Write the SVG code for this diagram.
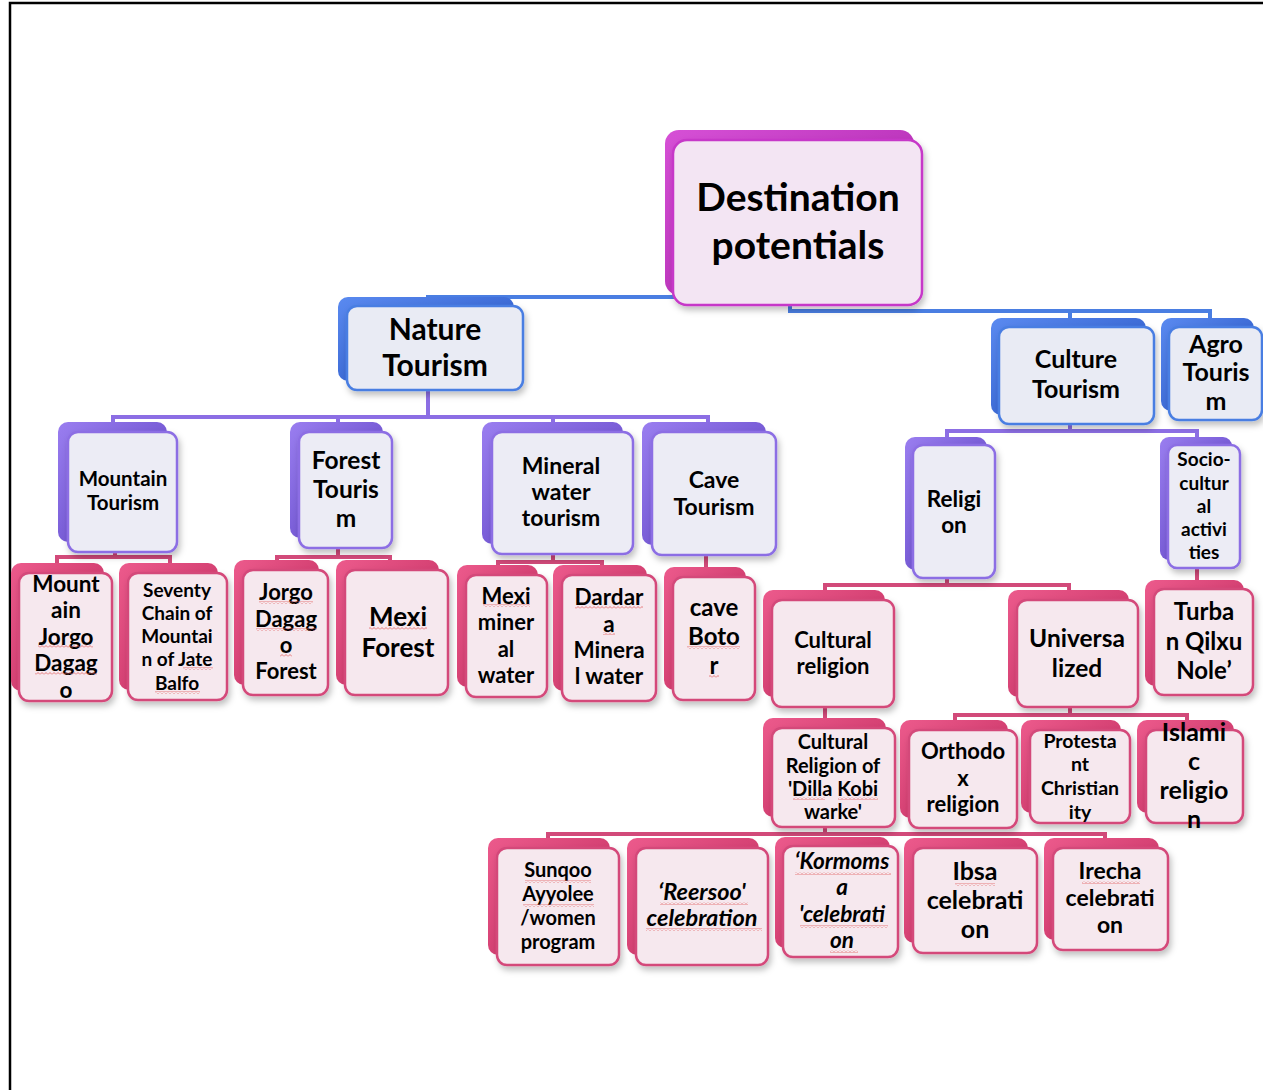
<svg xmlns="http://www.w3.org/2000/svg" width="1263" height="1090" viewBox="0 0 1263 1090">
<defs>
<linearGradient id="gM" x1="0" y1="0" x2="1" y2="1"><stop offset="0" stop-color="#d650d6"/><stop offset="1" stop-color="#a820a8"/></linearGradient>
<linearGradient id="gB" x1="0" y1="0" x2="1" y2="1"><stop offset="0" stop-color="#5a8af0"/><stop offset="1" stop-color="#2450c0"/></linearGradient>
<linearGradient id="gP" x1="0" y1="0" x2="1" y2="1"><stop offset="0" stop-color="#9a7ef0"/><stop offset="1" stop-color="#5a3ec0"/></linearGradient>
<linearGradient id="gK" x1="0" y1="0" x2="1" y2="1"><stop offset="0" stop-color="#ec5a8c"/><stop offset="1" stop-color="#c02a5c"/></linearGradient>
<filter id="sh" x="-20%" y="-20%" width="140%" height="150%"><feDropShadow dx="2" dy="4" stdDeviation="3" flood-color="#000" flood-opacity="0.25"/></filter>
<pattern id="zz" width="4" height="3" patternUnits="userSpaceOnUse"><path d="M0,2.5 L2,0.5 L4,2.5" stroke="#e06060" stroke-width="0.8" fill="none"/></pattern>
</defs>
<style>
.t{font-family:Lato,"Open Sans","Liberation Sans",sans-serif;font-weight:bold;fill:#000;text-anchor:middle}
.i{font-style:italic}
.bkM{fill:url(#gM)}.bkB{fill:url(#gB)}.bkP{fill:url(#gP)}.bkK{fill:url(#gK)}
.fr{stroke-width:2.5;filter:url(#sh)}
.frM{fill:#f3e5f3;stroke:#c637c8}
.frB{fill:#e9ebf4;stroke:#4a7ee2}
.frP{fill:#ececf5;stroke:#8c6ee4}
.frK{fill:#f6e8ee;stroke:#d4487a}
.c{fill:none;stroke-width:4}
.cB{stroke:#4a7ee2}.cP{stroke:#8c6ee4}.cK{stroke:#d24a7a}
.sq{fill:url(#zz)}
</style>
<rect width="1263" height="1090" fill="#fff"/>
<path d="M10,1090 V3 H1263" fill="none" stroke="#000" stroke-width="2.5"/>
<g id="connectors">
<path class="c cB" d="M428,305 V297 H790 V311 H1210 V325 M1070,311 V325"/>
<path class="c cP" d="M428,390 V417 M113,430 V417 H708 V430 M338,417 V430 M553,417 V430"/>
<path class="c cP" d="M1070,424 V431 M947,445 V431 H1197 V445"/>
<path class="c cK" d="M115,552 V557 M57,568 V557 H170 V568"/>
<path class="c cK" d="M338,548 V557 M277,565 V557 H390 V565"/>
<path class="c cK" d="M553,554 V562 M498,570 V562 H602 V570"/>
<path class="c cK" d="M706,555 V575"/>
<path class="c cK" d="M947,578 V585 M825,595 V585 H1069 V595"/>
<path class="c cK" d="M1197,568 V585"/>
<path class="c cK" d="M825,707 V723"/>
<path class="c cK" d="M1070,707 V715 M955,725 V715 H1187 V725"/>
<path class="c cK" d="M825,827 V834 M548,845 V834 H1105 V845"/>
</g>
<g id="root">
<rect class="bkM" x="665" y="130" width="249" height="165" rx="14"/>
<rect class="fr frM" x="673" y="140" width="249" height="165" rx="14"/>
<text class="t" font-size="39"><tspan x="798" y="211">Destination</tspan><tspan x="798" y="259">potentials</tspan></text>
</g>
<g id="nature">
<rect class="bkB" x="338" y="297" width="176" height="84" rx="10"/>
<rect class="fr frB" x="347" y="306" width="176" height="84" rx="10"/>
<text class="t" font-size="30"><tspan x="435" y="340">Nature</tspan><tspan x="435" y="376">Tourism</tspan></text>
</g>
<g id="culture">
<rect class="bkB" x="991" y="318" width="155" height="97" rx="10"/>
<rect class="fr frB" x="999" y="327" width="155" height="97" rx="10"/>
<text class="t" font-size="25"><tspan x="1076" y="368">Culture</tspan><tspan x="1076" y="398">Tourism</tspan></text>
</g>
<g id="agro">
<rect class="bkB" x="1161" y="318" width="93" height="93" rx="10"/>
<rect class="fr frB" x="1169" y="327" width="93" height="93" rx="10"/>
<text class="t" font-size="25"><tspan x="1216" y="353">Agro</tspan><tspan x="1216" y="381">Touris</tspan><tspan x="1216" y="410">m</tspan></text>
</g>
<g id="mountain">
<rect class="bkP" x="58" y="422" width="109" height="120" rx="10"/>
<rect class="fr frP" x="68" y="432" width="109" height="120" rx="10"/>
<text class="t" font-size="20.5"><tspan x="123" y="486">Mountain</tspan><tspan x="123" y="510">Tourism</tspan></text>
</g>
<g id="forest">
<rect class="bkP" x="290" y="422" width="93" height="116" rx="10"/>
<rect class="fr frP" x="299" y="432" width="93" height="116" rx="10"/>
<text class="t" font-size="24.5"><tspan x="346" y="469">Forest</tspan><tspan x="346" y="498">Touris</tspan><tspan x="346" y="527">m</tspan></text>
</g>
<g id="mineral">
<rect class="bkP" x="482" y="422" width="141" height="122" rx="10"/>
<rect class="fr frP" x="492" y="432" width="141" height="122" rx="10"/>
<text class="t" font-size="23"><tspan x="561" y="474">Mineral</tspan><tspan x="561" y="500">water</tspan><tspan x="561" y="526">tourism</tspan></text>
</g>
<g id="cave">
<rect class="bkP" x="642" y="422" width="124" height="123" rx="10"/>
<rect class="fr frP" x="652" y="432" width="124" height="123" rx="10"/>
<text class="t" font-size="23"><tspan x="714" y="488">Cave</tspan><tspan x="714" y="515">Tourism</tspan></text>
</g>
<g id="religion">
<rect class="bkP" x="905" y="437" width="82" height="133" rx="10"/>
<rect class="fr frP" x="913" y="445" width="82" height="133" rx="10"/>
<text class="t" font-size="22.5"><tspan x="954" y="507">Religi</tspan><tspan x="954" y="533">on</tspan></text>
</g>
<g id="socio">
<rect class="bkP" x="1160" y="437" width="72" height="123" rx="9"/>
<rect class="fr frP" x="1168" y="445" width="72" height="123" rx="9"/>
<text class="t" font-size="19"><tspan x="1204" y="466">Socio-</tspan><tspan x="1204" y="490">cultur</tspan><tspan x="1204" y="513">al</tspan><tspan x="1204" y="536">activi</tspan><tspan x="1204" y="559">ties</tspan></text>
</g>
<g id="mount-jorgo">
<rect class="bkK" x="11" y="563" width="93" height="128" rx="10"/>
<rect class="fr frK" x="19" y="573" width="93" height="128" rx="10"/>
<text class="t" font-size="22.5"><tspan x="66" y="592">Mount</tspan><tspan x="66" y="618">ain</tspan><tspan x="66" y="645">Jorgo</tspan><tspan x="66" y="671">Dagag</tspan><tspan x="66" y="698">o</tspan></text>
<rect class="sq" x="38" y="645" width="55" height="3"/><rect class="sq" x="35" y="672" width="62" height="3"/>
</g>
<g id="seventy">
<rect class="bkK" x="119" y="563" width="99" height="127" rx="10"/>
<rect class="fr frK" x="128" y="573" width="99" height="127" rx="10"/>
<text class="t" font-size="19"><tspan x="177" y="597">Seventy</tspan><tspan x="177" y="620">Chain of</tspan><tspan x="177" y="643">Mountai</tspan><tspan x="177" y="666">n of Jate</tspan><tspan x="177" y="690">Balfo</tspan></text>
<rect class="sq" x="183" y="667" width="30" height="3"/><rect class="sq" x="155" y="691" width="45" height="3"/>
</g>
<g id="jorgo-forest">
<rect class="bkK" x="234" y="560" width="85" height="125" rx="10"/>
<rect class="fr frK" x="243" y="570" width="85" height="125" rx="10"/>
<text class="t" font-size="22"><tspan x="286" y="600">Jorgo</tspan><tspan x="286" y="627">Dagag</tspan><tspan x="286" y="653">o</tspan><tspan x="286" y="679">Forest</tspan></text>
<rect class="sq" x="259" y="601" width="54" height="3"/><rect class="sq" x="256" y="628" width="61" height="3"/><rect class="sq" x="280" y="654" width="12" height="3"/>
</g>
<g id="mexi-forest">
<rect class="bkK" x="336" y="560" width="103" height="125" rx="10"/>
<rect class="fr frK" x="345" y="570" width="103" height="125" rx="10"/>
<text class="t" font-size="26"><tspan x="398" y="626">Mexi</tspan><tspan x="398" y="657">Forest</tspan></text>
<rect class="sq" x="369" y="627" width="58" height="3"/>
</g>
<g id="mexi-mineral">
<rect class="bkK" x="457" y="565" width="81" height="122" rx="10"/>
<rect class="fr frK" x="466" y="575" width="81" height="122" rx="10"/>
<text class="t" font-size="22"><tspan x="506" y="604">Mexi</tspan><tspan x="506" y="630">miner</tspan><tspan x="506" y="657">al</tspan><tspan x="506" y="683">water</tspan></text>
<rect class="sq" x="483" y="604" width="47" height="3"/>
</g>
<g id="dardara">
<rect class="bkK" x="553" y="565" width="94" height="126" rx="10"/>
<rect class="fr frK" x="562" y="575" width="94" height="126" rx="10"/>
<text class="t" font-size="22.5"><tspan x="609" y="605">Dardar</tspan><tspan x="609" y="632">a</tspan><tspan x="609" y="658">Minera</tspan><tspan x="609" y="684">l water</tspan></text>
<rect class="sq" x="575" y="606" width="68" height="3"/><rect class="sq" x="603" y="632" width="12" height="3"/>
</g>
<g id="cave-botor">
<rect class="bkK" x="664" y="567" width="82" height="123" rx="10"/>
<rect class="fr frK" x="673" y="577" width="82" height="123" rx="10"/>
<text class="t" font-size="24"><tspan x="714" y="616">cave</tspan><tspan x="714" y="645">Boto</tspan><tspan x="714" y="674">r</tspan></text>
<rect class="sq" x="687" y="646" width="53" height="3"/><rect class="sq" x="709" y="675" width="10" height="3"/>
</g>
<g id="cultural-religion">
<rect class="bkK" x="763" y="590" width="122" height="107" rx="10"/>
<rect class="fr frK" x="772" y="600" width="122" height="107" rx="10"/>
<text class="t" font-size="22"><tspan x="833" y="648">Cultural</tspan><tspan x="833" y="674">religion</tspan></text>
</g>
<g id="universalized">
<rect class="bkK" x="1008" y="590" width="121" height="107" rx="10"/>
<rect class="fr frK" x="1017" y="600" width="121" height="107" rx="10"/>
<text class="t" font-size="24.5"><tspan x="1077" y="647">Universa</tspan><tspan x="1077" y="677">lized</tspan></text>
</g>
<g id="turban">
<rect class="bkK" x="1145" y="580" width="99" height="106" rx="10"/>
<rect class="fr frK" x="1154" y="589" width="99" height="106" rx="10"/>
<text class="t" font-size="24"><tspan x="1204" y="620">Turba</tspan><tspan x="1204" y="650">n Qilxu</tspan><tspan x="1204" y="679">Nole’</tspan></text>
</g>
<g id="dilla">
<rect class="bkK" x="763" y="718" width="123" height="99" rx="10"/>
<rect class="fr frK" x="772" y="728" width="123" height="99" rx="10"/>
<text class="t" font-size="20"><tspan x="833" y="749">Cultural</tspan><tspan x="833" y="773">Religion of</tspan><tspan x="833" y="796">'Dilla Kobi</tspan><tspan x="833" y="819">warke'</tspan></text>
<rect class="sq" x="793" y="797" width="32" height="3"/><rect class="sq" x="838" y="797" width="40" height="3"/>
</g>
<g id="orthodox">
<rect class="bkK" x="900" y="720" width="108" height="98" rx="10"/>
<rect class="fr frK" x="909" y="730" width="108" height="98" rx="10"/>
<text class="t" font-size="22"><tspan x="963" y="759">Orthodo</tspan><tspan x="963" y="786">x</tspan><tspan x="963" y="812">religion</tspan></text>
</g>
<g id="protestant">
<rect class="bkK" x="1021" y="720" width="100" height="93" rx="10"/>
<rect class="fr frK" x="1030" y="730" width="100" height="93" rx="10"/>
<text class="t" font-size="19.5"><tspan x="1080" y="748">Protesta</tspan><tspan x="1080" y="771">nt</tspan><tspan x="1080" y="795">Christian</tspan><tspan x="1080" y="819">ity</tspan></text>
</g>
<g id="islamic">
<rect class="bkK" x="1137" y="720" width="97" height="93" rx="10"/>
<rect class="fr frK" x="1146" y="730" width="97" height="93" rx="10"/>
<text class="t" font-size="25"><tspan x="1194" y="741">Islami</tspan><tspan x="1194" y="770">c</tspan><tspan x="1194" y="799">religio</tspan><tspan x="1194" y="828">n</tspan></text>
</g>
<g id="sunqoo">
<rect class="bkK" x="488" y="838" width="122" height="117" rx="10"/>
<rect class="fr frK" x="497" y="848" width="122" height="117" rx="10"/>
<text class="t" font-size="20"><tspan x="558" y="877">Sunqoo</tspan><tspan x="558" y="901">Ayyolee</tspan><tspan x="558" y="925">/women</tspan><tspan x="558" y="949">program</tspan></text>
<rect class="sq" x="525" y="880" width="66" height="3"/><rect class="sq" x="523" y="904" width="71" height="3"/>
</g>
<g id="reersoo">
<rect class="bkK" x="627" y="838" width="132" height="117" rx="10"/>
<rect class="fr frK" x="636" y="848" width="132" height="117" rx="10"/>
<text class="t i" font-size="23.5"><tspan x="702" y="900">‘Reersoo'</tspan><tspan x="702" y="926">celebration</tspan></text>
<rect class="sq" x="660" y="902" width="88" height="3"/><rect class="sq" x="646" y="928" width="116" height="3"/>
</g>
<g id="kormomsa">
<rect class="bkK" x="775" y="837" width="115" height="111" rx="10"/>
<rect class="fr frK" x="783" y="846" width="115" height="111" rx="10"/>
<text class="t i" font-size="22.5"><tspan x="842" y="869">‘Kormoms</tspan><tspan x="842" y="895">a</tspan><tspan x="842" y="922">'celebrati</tspan><tspan x="842" y="948">on</tspan></text>
<rect class="sq" x="795" y="872" width="96" height="3"/><rect class="sq" x="800" y="925" width="88" height="3"/><rect class="sq" x="830" y="950" width="28" height="3"/>
</g>
<g id="ibsa">
<rect class="bkK" x="904" y="838" width="124" height="105" rx="10"/>
<rect class="fr frK" x="913" y="848" width="124" height="105" rx="10"/>
<text class="t" font-size="25"><tspan x="975" y="880">Ibsa</tspan><tspan x="975" y="909">celebrati</tspan><tspan x="975" y="938">on</tspan></text>
<rect class="sq" x="955" y="883" width="40" height="3"/>
</g>
<g id="irecha">
<rect class="bkK" x="1044" y="838" width="115" height="102" rx="10"/>
<rect class="fr frK" x="1053" y="848" width="115" height="102" rx="10"/>
<text class="t" font-size="23"><tspan x="1110" y="879">Irecha</tspan><tspan x="1110" y="906">celebrati</tspan><tspan x="1110" y="933">on</tspan></text>
<rect class="sq" x="1082" y="881" width="58" height="3"/>
</g>
</svg>
